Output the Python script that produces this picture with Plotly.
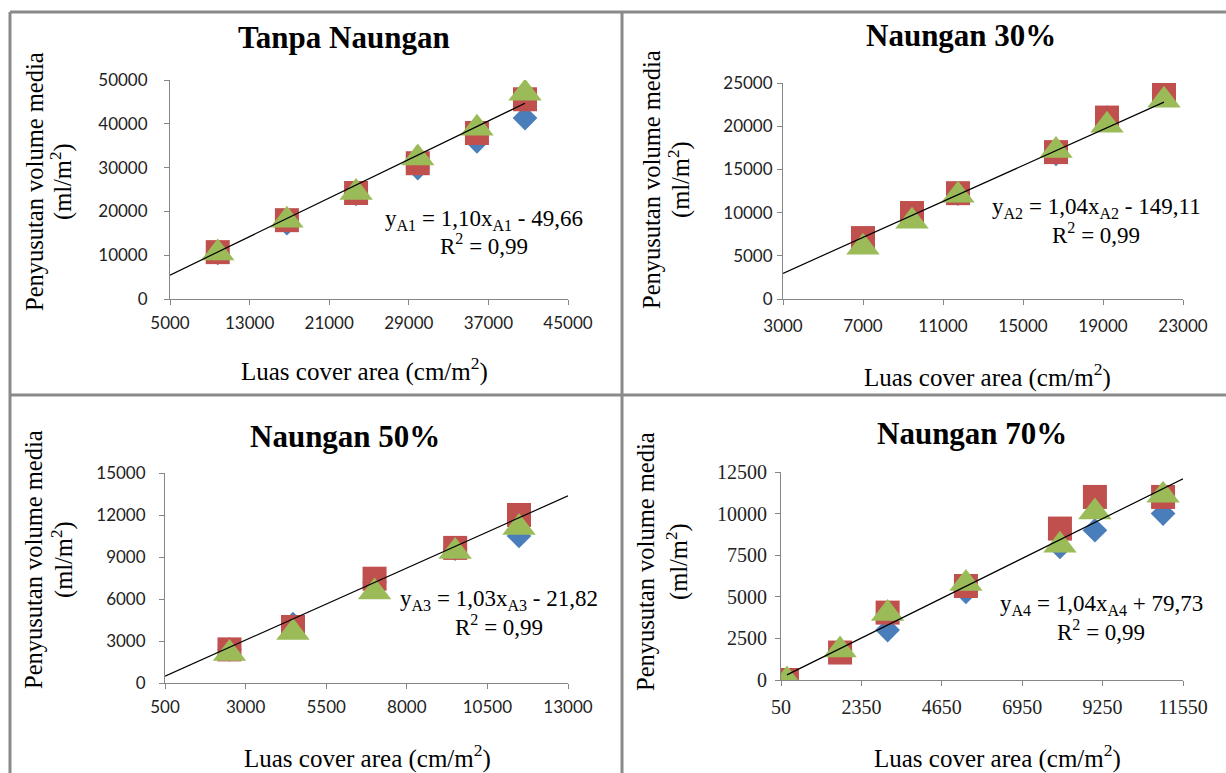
import plotly.graph_objects as go

W, H = 1226, 773

# ---------------- data ----------------
titles = ["Tanpa Naungan", "Naungan 30%", "Naungan 50%", "Naungan 70%"]

p1_x = [9800, 16750, 23700, 29900, 35850, 40680]
p1_diamond = [10500, 17300, 24000, 29900, 36000, 41300]
p1_square = [10700, 18000, 24200, 31000, 37900, 45600]
p1_triangle = [10500, 18000, 24300, 32200, 39000, 47000]

p2_x = [7000, 9450, 11750, 16650, 19200, 22050]
p2_diamond = [7000, 9800, 12200, 16800, 21000, 24200]
p2_square = [7050, 9950, 12250, 17000, 21000, 24000]
p2_triangle = [6000, 9000, 12000, 17200, 20100, 23000]

p3_x = [2500, 4470, 7000, 9500, 11480]
p3_diamond = [2400, 4200, 7200, 9600, 10500]
p3_square = [2400, 4000, 7450, 9650, 12000]
p3_triangle = [2100, 3600, 6500, 9400, 11100]

p4_x = [220, 1740, 3100, 5340, 8030, 9030, 10980]
p4_diamond = [0, 1800, 3000, 5300, 8000, 9000, 10000]
p4_square = [0, 1650, 4050, 5650, 9100, 11000, 11000]
p4_triangle = [0, 1800, 4000, 5800, 8100, 10100, 11100]

slopes = [1.10, 1.04, 1.03, 1.04]
intercepts = [-49.66, -149.11, -21.82, 79.73]
trend_x = [[5000, 40680], [3000, 22050], [500, 13000], [220, 11550]]

eq_labels = ["y<sub>A1</sub> = 1,10x<sub>A1</sub> - 49,66",
             "y<sub>A2</sub> = 1,04x<sub>A2</sub> - 149,11",
             "y<sub>A3</sub> = 1,03x<sub>A3</sub> - 21,82",
             "y<sub>A4</sub> = 1,04x<sub>A4</sub> + 79,73"]
r2_labels = ["R<sup>2</sup> = 0,99"] * 4

x_ranges = [[5000, 45000], [3000, 23000], [500, 13000], [50, 11550]]
x_dticks = [8000, 4000, 2500, 2300]
y_ranges = [[0, 50000], [0, 25000], [0, 15000], [0, 12500]]
y_dticks = [10000, 5000, 3000, 2500]

xs = [p1_x, p2_x, p3_x, p4_x]
diamonds = [p1_diamond, p2_diamond, p3_diamond, p4_diamond]
squares = [p1_square, p2_square, p3_square, p4_square]
triangles = [p1_triangle, p2_triangle, p3_triangle, p4_triangle]

x_title = "Luas cover area (cm/m<sup>2</sup>)"
y_title1 = "Penyusutan volume media"
y_title2 = "(ml/m<sup>2</sup>)"

# ---------------- layout geometry (pixels) ----------------
areas = [(170, 568, 80, 299), (783, 1183, 83, 299),
         (165, 568, 473, 683), (781, 1183, 472, 680)]
title_pos = [(344, 38), (961, 35), (345, 436), (972, 433)]
xtitle_pos = [(364, 370), (987, 375), (367, 756), (997, 756)]
ytitle_pos = [((34, 61), 182), ((651, 679), 180), ((33, 62), 560), ((645, 677), 562)]
eq_pos = [((484, 220), (484, 244)), ((1096, 208), (1096, 233)),
          ((499, 600), (499, 625)), ((1101, 605), (1101, 630))]
y_standoff = [13, 1, 10, 4]
x_standoff = [4, 7, 4, 4]

BLUE, RED, GREEN = "#4A7EBB", "#C0504D", "#9BBB59"
AXIS = "#868686"
SERIF = "Liberation Serif, Times New Roman, serif"
SANS = "Lato, Calibri, sans-serif"
tick_fonts = [SANS, SANS, SANS, SERIF]
tick_sizes = [17, 17, 17, 20]

fig = go.Figure()


def px_x(p):
    return p / W


def px_y(p):
    return 1 - p / H


annotations = []
for i in range(4):
    n = i + 1
    xa = "x" if n == 1 else f"x{n}"
    ya = "y" if n == 1 else f"y{n}"
    xl, xr, yt, yb = areas[i]
    common = dict(xaxis=xa, yaxis=ya, mode="markers", showlegend=False, hoverinfo="x+y")
    fig.add_trace(go.Scatter(x=xs[i], y=diamonds[i],
                             marker=dict(symbol="diamond", size=19, color=BLUE,
                                         line=dict(width=0)), **common))
    fig.add_trace(go.Scatter(x=xs[i], y=squares[i],
                             marker=dict(symbol="square", size=24, color=RED,
                                         line=dict(width=0)), **common))
    fig.add_trace(go.Scatter(x=xs[i], y=triangles[i],
                             marker=dict(symbol="triangle-up", size=29, color=GREEN,
                                         line=dict(width=0)), **common))
    tx = trend_x[i]
    ty = [slopes[i] * v + intercepts[i] for v in tx]
    fig.add_trace(go.Scatter(x=tx, y=ty, xaxis=xa, yaxis=ya, mode="lines",
                             line=dict(color="#000000", width=1.2), showlegend=False,
                             hoverinfo="skip"))

    axis_common = dict(showline=True, linecolor=AXIS, linewidth=1, ticks="outside",
                       ticklen=5, tickcolor=AXIS, tickwidth=1, showgrid=False,
                       zeroline=False, automargin=False, tickformat="d",
                       tickfont=dict(family=tick_fonts[i], size=tick_sizes[i],
                                     color="#222222"))
    fig.layout[("xaxis" if n == 1 else f"xaxis{n}")] = dict(
        domain=[px_x(xl), px_x(xr)], range=x_ranges[i], tick0=x_ranges[i][0],
        dtick=x_dticks[i], anchor=ya, ticklabelstandoff=x_standoff[i], **axis_common)
    fig.layout[("yaxis" if n == 1 else f"yaxis{n}")] = dict(
        domain=[px_y(yb), px_y(yt)], range=y_ranges[i], tick0=0,
        dtick=y_dticks[i], anchor=xa, ticklabelstandoff=y_standoff[i], **axis_common)

    def ann(text, x, y, size=23, angle=0):
        return dict(text=text, x=px_x(x), y=px_y(y), xref="paper", yref="paper",
                    xanchor="center", yanchor="middle", showarrow=False, textangle=angle,
                    font=dict(family=SERIF, size=size, color="#000000"))

    annotations.append(ann("<b>" + titles[i] + "</b>", *title_pos[i], size=31))
    annotations.append(ann(x_title, *xtitle_pos[i], size=25))
    (yx1, yx2), ymid = ytitle_pos[i]
    annotations.append(ann(y_title1, yx1, ymid, size=24.5, angle=-90))
    annotations.append(ann(y_title2, yx2, ymid, size=24.5, angle=-90))
    (e1x, e1y), (e2x, e2y) = eq_pos[i]
    annotations.append(ann(eq_labels[i], e1x, e1y))
    annotations.append(ann(r2_labels[i], e2x, e2y))

BORDER = "#8A8A8A"


def hline(y, x0, x1):
    return dict(type="line", xref="paper", yref="paper", x0=px_x(x0), x1=px_x(x1),
                y0=px_y(y), y1=px_y(y), line=dict(color=BORDER, width=3))


def vline(x, y0, y1):
    return dict(type="line", xref="paper", yref="paper", x0=px_x(x), x1=px_x(x),
                y0=px_y(y0), y1=px_y(y1), line=dict(color=BORDER, width=3))


shapes = [hline(12, 10, W), vline(10, 12, H), vline(622, 12, H), hline(395, 10, W)]

fig.update_layout(template="none", width=W, height=H,
                  margin=dict(l=0, r=0, t=0, b=0, pad=0, autoexpand=False),
                  paper_bgcolor="white", plot_bgcolor="white",
                  annotations=annotations, shapes=shapes)

fig.write_html("out.html")
